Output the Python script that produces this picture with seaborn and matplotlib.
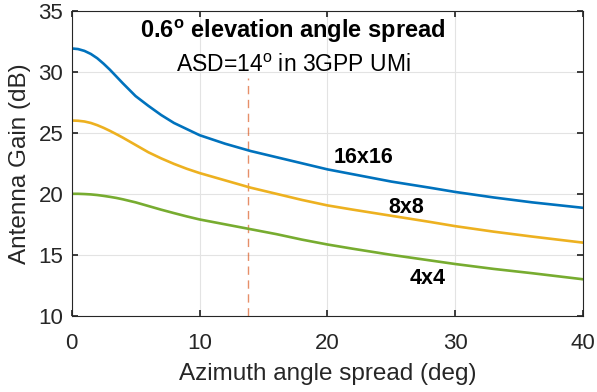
import numpy as np
import pandas as pd
import matplotlib
matplotlib.use("Agg")
import matplotlib.pyplot as plt
import seaborn as sns

# Data
azimuth = [0, 0.5, 1, 1.5, 2, 2.5, 3, 3.5, 4, 5, 6, 7, 8, 9, 10, 12, 14, 16, 18, 20, 22, 25, 28, 30, 33, 36, 40]
gain_16x16 = [31.9, 31.85, 31.7, 31.45, 31.1, 30.65, 30.15, 29.6, 29.05, 28.0, 27.2, 26.45, 25.8,
              25.3, 24.8, 24.1, 23.5, 23.0, 22.5, 22.0, 21.6, 21.0, 20.5, 20.15, 19.7, 19.3, 18.85]
gain_8x8 = [26.0, 25.98, 25.92, 25.8, 25.62, 25.4, 25.15, 24.88, 24.6, 24.0, 23.4, 22.9, 22.45,
            22.05, 21.7, 21.1, 20.5, 20.0, 19.5, 19.05, 18.7, 18.2, 17.7, 17.35, 16.9, 16.5, 16.0]
gain_4x4 = [20.0, 20.0, 19.98, 19.95, 19.9, 19.83, 19.75, 19.66, 19.55, 19.3, 19.0, 18.7, 18.42,
            18.15, 17.9, 17.5, 17.1, 16.7, 16.25, 15.85, 15.5, 15.0, 14.55, 14.25, 13.85, 13.5, 13.0]
series_names = ["16x16", "8x8", "4x4"]
asd_value = 13.8
asd_line_top = 29.5
x_ticks = [0, 10, 20, 30, 40]
y_ticks = [10, 15, 20, 25, 30, 35]

sns.set_theme(style="whitegrid")
plt.rcParams['font.family'] = ['Liberation Sans', 'DejaVu Sans']
plt.rcParams['mathtext.fontset'] = 'custom'
plt.rcParams['mathtext.rm'] = 'Liberation Sans'
plt.rcParams['mathtext.bf'] = 'Liberation Sans:bold'

df = pd.DataFrame({
    "Azimuth": azimuth * 3,
    "Gain": gain_16x16 + gain_8x8 + gain_4x4,
    "Array": [series_names[0]] * len(azimuth) + [series_names[1]] * len(azimuth) + [series_names[2]] * len(azimuth),
})

colors = {"16x16": "#0072BD", "8x8": "#EDB120", "4x4": "#77AC30"}

fig = plt.figure(figsize=(5.97, 3.92), dpi=100)
ax = fig.add_axes([0.12, 0.194, 0.857, 0.779])

ax.plot([asd_value, asd_value], [10, asd_line_top], color="#D95319", alpha=0.65,
        linewidth=1.0, dashes=(6, 4))

sns.lineplot(data=df, x="Azimuth", y="Gain", hue="Array", palette=colors,
             linewidth=1.9, legend=False, ax=ax, sort=False)

ax.set_xlim(0, 40)
ax.set_ylim(10, 35)
ax.set_xticks(x_ticks)
ax.set_yticks(y_ticks)
ax.grid(True, color="#E3E3E3", linewidth=0.8)
ax.set_facecolor("white")
for s in ax.spines.values():
    s.set_color("#262626")
    s.set_linewidth(0.8)
ax.tick_params(axis="both", direction="in", length=4, color="#262626",
               labelsize=16, labelcolor="#262626", top=True, right=True,
               bottom=True, left=True)
ax.tick_params(axis="x", pad=12)
ax.tick_params(axis="y", pad=6)
ax.set_xlabel("Azimuth angle spread (deg)", fontsize=17.5, color="#262626", labelpad=7)
ax.set_ylabel("Antenna Gain (dB)", fontsize=17.5, color="#262626", labelpad=5)

ax.text(17.3, 33.3, r"0.6$^\mathbf{o}$ elevation angle spread", ha="center", va="center",
        fontsize=17, fontweight="bold", color="black")
ax.text(17.3, 30.5, r"ASD=14$^\mathrm{o}$ in 3GPP UMi", ha="center", va="center",
        fontsize=16.5, color="black")
ax.text(20.5, 23.0, "16x16", ha="left", va="center", fontsize=15.5, fontweight="bold", color="black")
ax.text(24.8, 18.9, "8x8", ha="left", va="center", fontsize=15.5, fontweight="bold", color="black")
ax.text(26.4, 13.1, "4x4", ha="left", va="center", fontsize=15.5, fontweight="bold", color="black")

fig.savefig("out.png", dpi=100, facecolor="white")
